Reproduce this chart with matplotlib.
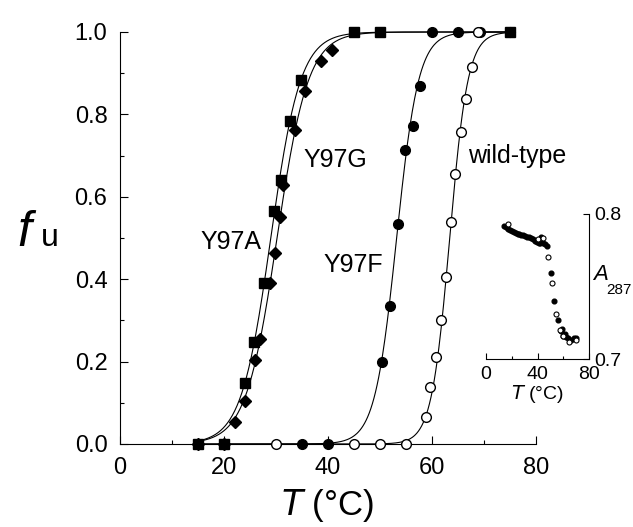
import numpy as np
import matplotlib
matplotlib.use("Agg")
import matplotlib.pyplot as plt
from matplotlib.ticker import MultipleLocator

plt.rcParams['font.family'] = ['Liberation Sans', 'DejaVu Sans']

# fraction unfolded
t_y97a = [15, 20, 24.0, 25.8, 27.75, 29.7, 31.0, 32.7, 34.75, 45, 50, 75]
f_y97a = [0, 0, 0.147, 0.248, 0.39, 0.566, 0.64, 0.785, 0.883, 1, 1, 1]

t_y97g = [15, 20, 22.1, 24.0, 26.0, 26.9, 28.8, 29.8, 30.8, 31.3, 33.7, 35.6, 38.7, 40.7]
f_y97g = [0, 0, 0.054, 0.105, 0.204, 0.256, 0.39, 0.463, 0.551, 0.629, 0.763, 0.858, 0.929, 0.957]

t_y97f = [35, 40, 50.4, 51.9, 53.5, 54.9, 56.4, 57.7, 60, 65, 69.2, 75]
f_y97f = [0, 0, 0.2, 0.336, 0.535, 0.714, 0.773, 0.87, 1, 1, 1, 1]

t_wt = [30, 45, 50, 55, 58.8, 59.6, 60.8, 61.7, 62.6, 63.7, 64.5, 65.6, 66.5, 67.6, 68.8]
f_wt = [0, 0, 0, 0, 0.065, 0.138, 0.21, 0.302, 0.405, 0.538, 0.655, 0.758, 0.837, 0.916, 1]

# two-state fit parameters (Tm, width) for the drawn curves
fit_tm = {'Y97A': 29.0, 'Y97G': 30.2, 'Y97F': 53.2, 'wt': 63.4}
fit_w = {'Y97A': 2.85, 'Y97G': 3.0, 'Y97F': 2.1, 'wt': 1.75}

# inset: A287 vs T
ti_filled = [14, 15.5, 17, 18.5, 20, 21.5, 23, 24.5, 26, 27.5, 29, 30.5, 32, 33.5, 35,
             36.5, 38, 39.5, 41, 42, 43, 44.5, 46, 47,
             50.4, 52.9, 56, 58, 59, 60, 61, 62, 64, 66, 68, 70]
ai_filled = [0.7915, 0.7910, 0.7900, 0.7891, 0.7883, 0.7878, 0.7871, 0.7865, 0.7860,
             0.7855, 0.7852, 0.7848, 0.7843, 0.7838, 0.7833, 0.7827, 0.7815, 0.7810,
             0.7803, 0.7800, 0.7843, 0.7798, 0.7795, 0.7779,
             0.7593, 0.7400, 0.7271, 0.7191, 0.7207, 0.7159, 0.7175, 0.7150, 0.7143,
             0.7134, 0.7143, 0.7143]
ti_open = [16.8, 40, 44, 47.8, 51.4, 54, 57.4, 60, 64.6, 69.8]
ai_open = [0.7931, 0.7827, 0.7835, 0.7706, 0.7521, 0.7312, 0.7199, 0.7159, 0.7118, 0.7134]

fig = plt.figure(figsize=(6.33, 5.27), dpi=100)
ax = fig.add_axes([120 / 633, 83 / 527, 416 / 633, 412 / 527])

tt = np.linspace(15, 75, 400)
for key in ['Y97A', 'Y97G', 'Y97F', 'wt']:
    ax.plot(tt, 1 / (1 + np.exp(-(tt - fit_tm[key]) / fit_w[key])), color='black', lw=0.8,
            clip_on=False)

ax.plot(t_y97g, f_y97g, 'D', color='black', ms=6.5, clip_on=False, zorder=3)
ax.plot(t_y97a, f_y97a, 's', color='black', ms=7.5, clip_on=False, zorder=3)
ax.plot(t_y97f, f_y97f, 'o', color='black', ms=7, clip_on=False, zorder=3)
ax.plot(t_wt, f_wt, 'o', mfc='white', mec='black', mew=1, ms=7, clip_on=False, zorder=4)

ax.set_xlim(0, 80)
ax.set_ylim(0, 1)
ax.spines['top'].set_visible(False)
ax.spines['right'].set_visible(False)
ax.xaxis.set_major_locator(MultipleLocator(20))
ax.xaxis.set_minor_locator(MultipleLocator(10))
ax.yaxis.set_major_locator(MultipleLocator(0.2))
ax.yaxis.set_minor_locator(MultipleLocator(0.1))
ax.tick_params(which='both', direction='in', labelsize=17, width=0.8)
ax.tick_params(which='major', length=6)
ax.tick_params(which='minor', length=3)
ax.tick_params(axis='x', pad=9)
ax.tick_params(axis='y', pad=9)
ax.set_yticklabels(['%.1f' % v for v in ax.get_yticks()])

fig.text(327 / 633, 1 - 506 / 527, r'$\it{T}$ (°C)', fontsize=25, ha='center', va='center')
fig.text(17 / 633, 1 - 246 / 527, 'f', fontsize=36, style='italic', ha='left', va='baseline')
fig.text(41 / 633, 1 - 246 / 527, 'u', fontsize=23, ha='left', va='baseline')

ax.text(15.4, 0.49, 'Y97A', fontsize=18, ha='left', va='center')
ax.text(35.2, 0.69, 'Y97G', fontsize=18, ha='left', va='center')
ax.text(50.6, 0.435, 'Y97F', fontsize=18, ha='right', va='center')
ax.text(66.9, 0.698, 'wild-type', fontsize=18, ha='left', va='center')

# inset
ax2 = fig.add_axes([486 / 633, (527 - 359) / 527, 103 / 633, 145 / 527])
ax2.plot(ti_filled, ai_filled, 'o', color='black', ms=3.4)
ax2.plot(ti_open, ai_open, 'o', mfc='white', mec='black', mew=0.8, ms=3.6)
ax2.set_xlim(0, 80)
ax2.set_ylim(0.7, 0.8)
ax2.spines['top'].set_visible(False)
ax2.spines['left'].set_visible(False)
ax2.yaxis.tick_right()
ax2.set_xticks([0, 40, 80])
ax2.set_xticks([20, 60], minor=True)
ax2.set_yticks([0.7, 0.8])
ax2.set_yticklabels(['0.7', '0.8'])
ax2.tick_params(which='both', direction='in', labelsize=14, width=0.8)
ax2.tick_params(which='major', length=4)
ax2.tick_params(which='minor', length=2)
ax2.tick_params(axis='x', pad=5)
ax2.tick_params(axis='y', pad=4)
ax2.set_xlabel(r'$\it{T}$ (°C)', fontsize=14, labelpad=0)
fig.text(593 / 633, 1 - 280 / 527, 'A', fontsize=16, style='italic', ha='left', va='baseline')
fig.text(606 / 633, 1 - 294 / 527, '287', fontsize=11, ha='left', va='baseline')

fig.savefig('out.png', dpi=100)
